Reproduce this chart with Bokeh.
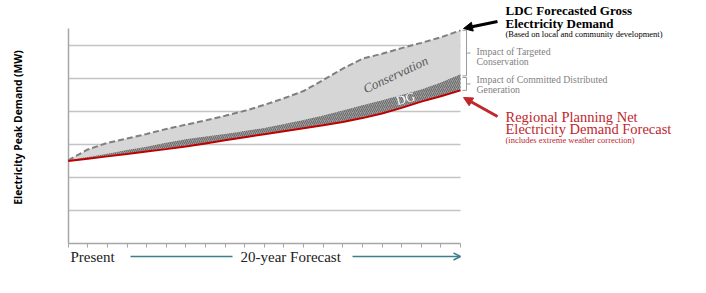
import math
from bokeh.plotting import figure
from bokeh.models import Label, Arrow, NormalHead, OpenHead, FixedTicker, Range1d, Grid
from bokeh.embed import file_html
from bokeh.resources import INLINE

# ---- data ----
years = list(range(21))
gross = [2.52, 2.85, 3.05, 3.18, 3.32, 3.47, 3.60, 3.73, 3.87, 4.02, 4.20,
         4.40, 4.62, 4.95, 5.30, 5.60, 5.75, 5.92, 6.08, 6.25, 6.46]
after_conservation = [2.52, 2.62, 2.72, 2.83, 2.93, 3.05, 3.16, 3.24, 3.32, 3.41, 3.50,
                      3.62, 3.74, 3.88, 4.03, 4.19, 4.34, 4.50, 4.67, 4.88, 5.13]
net = [2.50, 2.57, 2.64, 2.71, 2.79, 2.86, 2.94, 3.03, 3.13, 3.22, 3.31,
       3.40, 3.49, 3.58, 3.68, 3.80, 3.94, 4.11, 4.30, 4.46, 4.64]
grid_levels = [1, 2, 3, 4, 5, 6]
x_min, x_max = 0, 20
y_min, y_top = 0, 6.515

# ---- layout: the frame covers the whole canvas; plot region is x 0..20, y 0..6.5
W, H = 706, 293
X0, XS = 67.7, (460 - 67.7) / 20   # pixel of x=0, pixels per unit
Y0, YS = 243.0, 33.0               # pixel of y=0, pixels per unit

def dx(px):
    return (px - X0) / XS

def dy(py):
    return (Y0 - py) / YS

p = figure(width=W, height=H, output_backend="svg", toolbar_location=None,
           x_range=Range1d(dx(0), dx(W)), y_range=Range1d(dy(H), dy(0)),
           x_axis_location=None, y_axis_location=None,
           min_border=0)
p.outline_line_color = None
p.background_fill_color = "white"
p.xgrid.visible = False
p.ygrid.visible = False

# horizontal gridlines, bounded to the plot region
p.add_layout(Grid(dimension=1, ticker=FixedTicker(ticks=grid_levels),
                  cross_bounds=(x_min, x_max),
                  grid_line_color="#c4c4c4", grid_line_width=1.5))
# x-axis tick marks (below the axis line)
p.add_layout(Grid(dimension=0, ticker=FixedTicker(ticks=years),
                  cross_bounds=(-4 / YS, 0),
                  grid_line_color="#a6a6a6", grid_line_width=1))
# axis lines
p.add_layout(Grid(dimension=1, ticker=FixedTicker(ticks=[y_min]),
                  cross_bounds=(x_min, x_max),
                  grid_line_color="#a6a6a6", grid_line_width=1.5))
p.add_layout(Grid(dimension=0, ticker=FixedTicker(ticks=[x_min]),
                  cross_bounds=(y_min, y_top),
                  grid_line_color="#a6a6a6", grid_line_width=1.5))

# areas
p.varea(x=years, y1=after_conservation, y2=gross, fill_color="#d6d6d6")
p.varea(x=years, y1=net, y2=after_conservation, fill_color="#9c9c9c",
        hatch_pattern="/", hatch_color="#6a6a6a", hatch_scale=4, hatch_weight=1)
p.line(years, gross, line_color="#7f7f7f", line_width=2, line_dash="6 3")
p.line(years, net, line_color="#c00000", line_width=2)

serif = "Liberation Serif"

# in-chart labels
p.add_layout(Label(x=dx(395), y=dy(74), text="Conservation", angle=math.radians(25),
                   text_font=serif, text_font_style="italic", text_font_size="13px",
                   text_color="#595959", text_align="center", text_baseline="middle"))
p.add_layout(Label(x=dx(405), y=dy(98), text="DG", angle=math.radians(15),
                   text_font=serif, text_font_size="13px",
                   text_color="white", text_align="center", text_baseline="middle"))

# y-axis title
p.add_layout(Label(x=dx(17), y=dy(127), text="Electricity Peak Demand (MW)",
                   angle=math.pi / 2, text_font="Open Sans", text_font_style="bold",
                   text_font_size="10.3px", text_color="black",
                   text_align="center", text_baseline="middle"))

# x-axis labels
p.add_layout(Label(x=dx(70), y=dy(256), text="Present", text_font=serif,
                   text_font_size="15px", text_color="#222222",
                   text_align="left", text_baseline="middle"))
p.add_layout(Label(x=dx(240), y=dy(256), text="20-year Forecast", text_font=serif,
                   text_font_size="15px", text_color="#222222",
                   text_align="left", text_baseline="middle"))
teal = "#3f7f8c"
p.add_layout(Arrow(x_start=dx(130), y_start=dy(256), x_end=dx(232), y_end=dy(256),
                   end=None, line_color=teal, line_width=1.5))
p.add_layout(Arrow(x_start=dx(352), y_start=dy(256), x_end=dx(460), y_end=dy(256),
                   end=OpenHead(size=7, line_color=teal, line_width=1.5),
                   line_color=teal, line_width=1.5))

# right-side annotations
def lab(px, py, txt, size, color, bold=False):
    p.add_layout(Label(x=dx(px), y=dy(py), text=txt, text_font=serif,
                       text_font_style="bold" if bold else "normal",
                       text_font_size=size, text_color=color,
                       text_align="left", text_baseline="middle"))

lab(505, 10, "LDC Forecasted Gross", "13px", "black", True)
lab(505, 23, "Electricity Demand", "13px", "black", True)
lab(505, 33, "(Based on local and community development)", "8.5px", "black")
lab(476, 51, "Impact of Targeted", "9.8px", "#7f7f7f")
lab(476, 61, "Conservation", "9.8px", "#7f7f7f")
lab(476, 79, "Impact of Committed Distributed", "9.8px", "#7f7f7f")
lab(476, 89, "Generation", "9.8px", "#7f7f7f")
red = "#c0272d"
lab(505, 116, "Regional Planning Net", "14.5px", red)
lab(505, 128, "Electricity Demand Forecast", "14.5px", red)
lab(505, 139, "(includes extreme weather correction)", "8.5px", red)

p.add_layout(Arrow(x_start=dx(497), y_start=dy(21), x_end=dx(463), y_end=dy(28),
                   end=NormalHead(size=9, fill_color="black", line_color="black"),
                   line_color="black", line_width=3))
p.add_layout(Arrow(x_start=dx(497), y_start=dy(116), x_end=dx(463), y_end=dy(97),
                   end=NormalHead(size=9, fill_color=red, line_color=red),
                   line_color=red, line_width=3))

# brackets
def seg(x0, y0, x1, y1):
    p.add_layout(Arrow(x_start=x0, y_start=y0, x_end=x1, y_end=y1, end=None,
                       line_color="#9a9a9a", line_width=1))

xb0, xb1, xb2 = dx(462), dx(466), dx(470)
g_end, c_end, n_end = gross[-1], after_conservation[-1], net[-1]
for top, bot in [(g_end, c_end - 0.05), (c_end - 0.1, n_end)]:
    mid = (top + bot) / 2
    seg(xb0, top, xb1, top)
    seg(xb1, top, xb1, bot)
    seg(xb0, bot, xb1, bot)
    seg(xb1, mid, xb2, mid)

open("out.html", "w").write(file_html(p, INLINE))
